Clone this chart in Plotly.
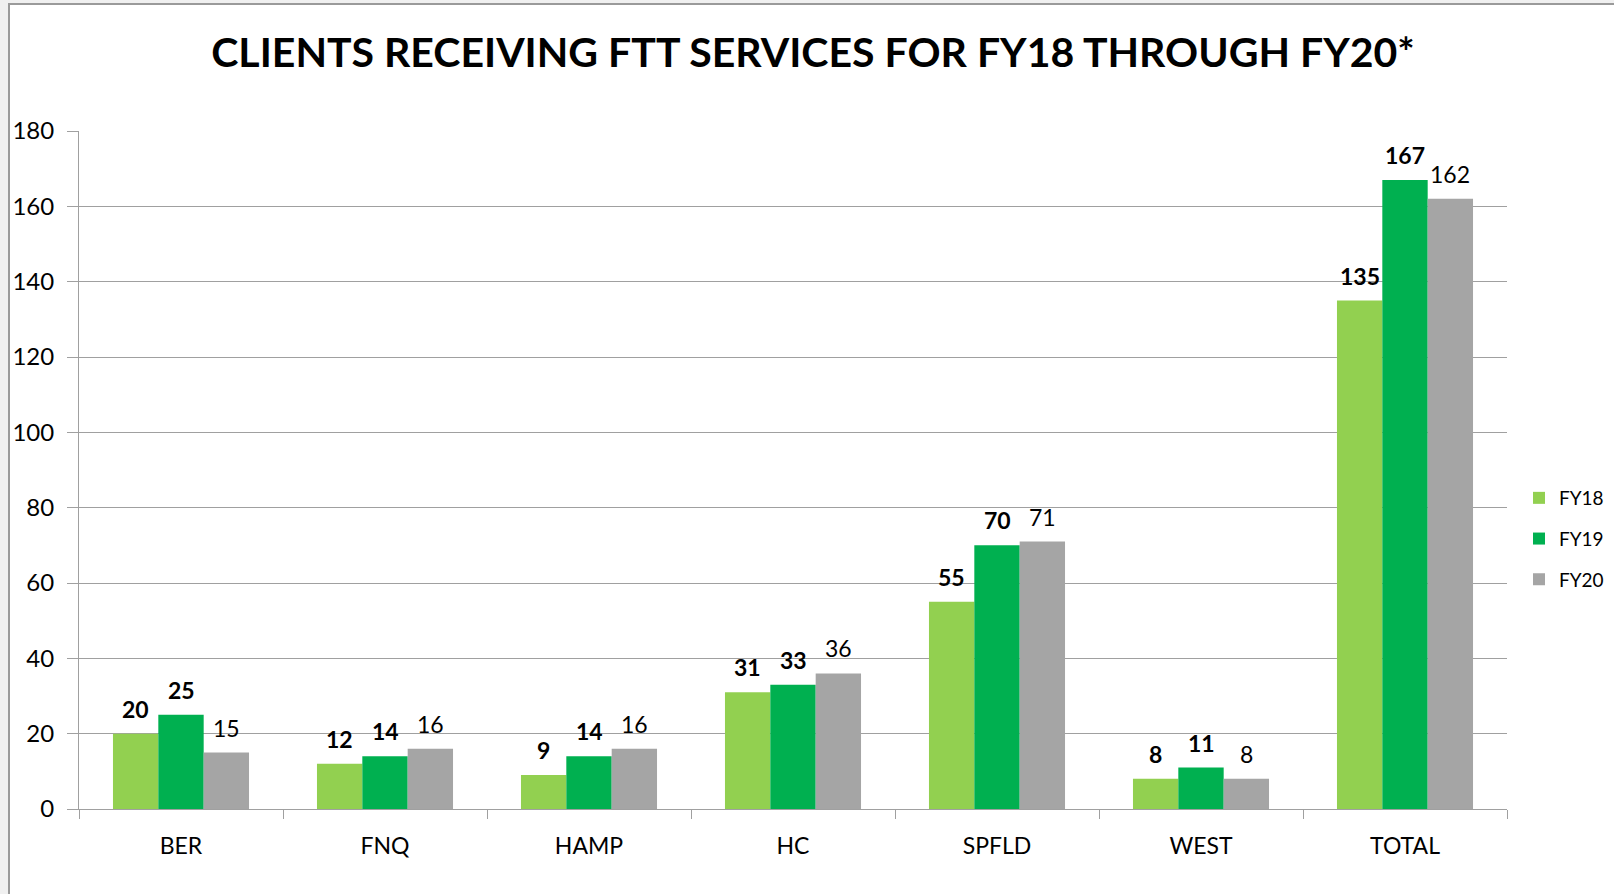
import plotly.graph_objects as go

# chart data
regions = ["BER", "FNQ", "HAMP", "HC", "SPFLD", "WEST", "TOTAL"]
fy18 = [20, 12, 9, 31, 55, 8, 135]
fy19 = [25, 14, 14, 33, 70, 11, 167]
fy20 = [15, 16, 16, 36, 71, 8, 162]
y_ticks = [0, 20, 40, 60, 80, 100, 120, 140, 160, 180]

FONT = "Lato, 'Open Sans', sans-serif"
W, H = 1614, 894
ML, MR, MT, MB = 79, 107, 131, 85
PW = W - ML - MR
PH = H - MT - MB
BARGAP = 0.333


def px_x(p):
    # pixel -> paper x
    return (p - ML) / PW


def px_y(p):
    # pixel -> paper y
    return (H - MB - p) / PH


fig = go.Figure()

series = [
    ("FY18", fy18, "#92d050", True),
    ("FY19", fy19, "#00b050", True),
    ("FY20", fy20, "#a5a5a5", False),
]
bar_w = PW / len(regions) * (1 - BARGAP) / len(series)

for i, (name, vals, color, bold) in enumerate(series):
    fig.add_trace(go.Bar(
        name=name,
        x=regions,
        y=vals,
        marker=dict(color=color, line=dict(width=0)),
        legendgroup=name,
    ))
    # value labels sit a little higher above the bars than plotly's own
    for reg, v in zip(regions, vals):
        fig.add_annotation(
            x=reg, y=v, xref="x", yref="y",
            text=f"<b>{v}</b>" if bold else str(v),
            showarrow=False,
            xshift=(i - 1) * bar_w,
            yanchor="bottom", yshift=9,
            font=dict(size=23, color="black", family=FONT),
        )

# grey page strip and framed white chart area
fig.add_shape(type="rect", xref="paper", yref="paper",
              x0=px_x(9), x1=px_x(W + 20), y0=px_y(H + 20), y1=px_y(4),
              fillcolor="white", line=dict(color="#9a9a9a", width=2),
              layer="below")

fig.update_layout(
    width=W, height=H,
    margin=dict(l=ML, r=MR, t=MT, b=MB, autoexpand=False),
    paper_bgcolor="#f0f0f0",
    plot_bgcolor="rgba(0,0,0,0)",
    font=dict(family=FONT, color="black"),
    barmode="group",
    bargap=BARGAP,
    bargroupgap=0,
    title=dict(
        text="<b>CLIENTS RECEIVING FTT SERVICES FOR FY18 THROUGH FY20*</b>",
        font=dict(size=41, family=FONT, color="black"),
        x=813 / W, xanchor="center",
        y=1 - 53 / H, yanchor="middle",
    ),
    legend=dict(
        x=px_x(1519), xanchor="left",
        y=px_y(539), yanchor="middle",
        font=dict(size=19, family=FONT),
        itemwidth=30,
        traceorder="grouped",
        tracegroupgap=13,
        bgcolor="rgba(0,0,0,0)",
    ),
    showlegend=True,
)

fig.update_yaxes(
    range=[0, 180],
    tickvals=y_ticks,
    showgrid=True, gridcolor="#a0a0a0", gridwidth=1,
    showline=True, linecolor="#a0a0a0", linewidth=1,
    ticks="outside", ticklen=11, tickcolor="#a0a0a0",
    tickfont=dict(size=24, family=FONT),
    ticklabelstandoff=8,
    zeroline=False,
)
fig.update_xaxes(
    showline=True, linecolor="#a0a0a0", linewidth=1,
    ticks="outside", ticklen=9, tickcolor="#a0a0a0",
    tickson="boundaries",
    tickfont=dict(size=23, family=FONT),
    ticklabelstandoff=16,
)

# drop the browser's default body margin so the figure sits at the page origin
fig.write_html("out.html", config={"displayModeBar": False},
               post_script="document.body.style.margin='0';")
